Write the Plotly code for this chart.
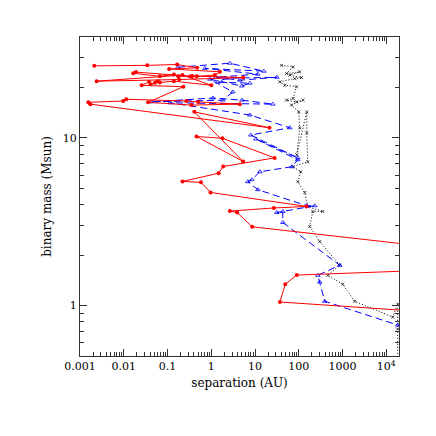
import plotly.graph_objects as go

# red track (filled dots, solid line); points beyond 2e4 AU run off the right edge
red_sep = [4.7e5, 37, 49, 90, 4.7e5, 4.7e5, 8.6, 3.9, 2.66, 27, 150, 0.96, 0.58, 0.22,
           1.47, 1.87, 28, 1.8, 0.46, 5.35, 0.41, 21.4, 0.00172, 0.00155, 0.0097, 0.0114,
           0.27, 0.5, 4.5, 0.355, 0.036, 0.23, 0.0256, 0.038, 0.041, 0.0515, 0.059, 0.067,
           0.14, 1.0, 0.22, 0.0024, 0.185, 5.35, 0.37, 0.175, 0.14, 0.067, 0.0165, 0.019,
           0.337, 0.462, 1.21, 1.57, 0.109, 0.476, 0.166, 0.0344, 0.00212]
red_mass = [0.889, 1.05, 1.34, 1.52, 1.65, 2.14, 2.95, 3.59, 3.66, 3.82, 3.9, 4.73, 5.43, 5.5,
            6.16, 6.75, 7.6, 9.95, 10.2, 7.23, 14.3, 11.5, 15.9, 16.3, 16.6, 17.0,
            16.6, 16.4, 15.9, 15.7, 16.3, 20.2, 20.6, 21.6, 20.9, 21.3, 21.8, 21.4,
            21.8, 20.6, 23.7, 21.8, 22.3, 22.9, 23.4, 23.3, 23.9, 23.3, 24.3, 24.7,
            23.3, 23.3, 23.7, 24.8, 25.8, 26.2, 27.4, 27.1, 26.9]

# blue track (dashed, small triangles)
blue_sep = [0.173, 2.66, 15.9, 0.714, 11.6, 1.27, 4.5, 31.5, 2.15, 1.41, 7.6, 5.0, 0.93,
            3.11, 1.84, 0.0418, 1.09, 5.0, 25.5, 0.113, 7.6, 62.3, 8.0, 94.8, 10.4, 94.8,
            69.2, 12.9, 8.45, 6.85, 11.6, 152, 232, 31.5, 43.1, 43.1, 863, 272, 301, 392,
            18200, 1.66e5]
blue_mass = [26.4, 27.9, 25.0, 26.0, 24.0, 23.0, 22.1, 23.0, 22.7, 21.5, 21.2, 20.4, 22.4,
             18.8, 16.8, 16.4, 17.3, 16.8, 15.9, 16.2, 13.7, 11.5, 10.4, 7.6, 9.86, 7.4,
             6.73, 6.28, 5.63, 5.48, 4.91, 3.94, 3.94, 3.59, 3.64, 3.13, 1.74, 1.515, 1.38, 1.06,
             0.765, 0.634]

# black track (dotted, small crosses)
black_sep = [40.3, 74.1, 52.4, 105, 62.3, 115, 81, 36.8, 47.9, 88.6, 74.1, 52.4, 88.6, 125,
             68, 100, 105, 90, 152, 152, 160, 73, 111, 95, 137, 160, 353, 209, 178, 301,
             863, 459, 1010, 1900, 14000, 18200, 18200, 18200]
black_mass = [27.1, 26.5, 24.2, 24.8, 23.7, 22.9, 22.6, 21.6, 20.6, 20.2, 17.2, 16.8, 16.4, 16.8,
              15.7, 14.3, 11.5, 7.93, 14.3, 10.7, 7.2, 6.73, 6.28, 5.48, 4.72, 3.89, 3.64, 3.64,
              2.96, 2.41, 1.74, 1.515, 1.34, 1.06, 0.853, 1.02, 0.724, 0.21]

x_major = [0.001, 0.01, 0.1, 1, 10, 100, 1000, 10000]
x_labels = ['0.001', '0.01', '0.1', '1', '10', '100', '1000', '10<sup>4</sup>']
y_major = [1, 10]
y_labels = ['1', '10']

x_minor = [m * 10.0 ** e for e in range(-3, 5) for m in range(2, 10)]
y_minor = [0.6, 0.7, 0.8, 0.9] + list(range(2, 10)) + [20, 30]

fig = go.Figure()
fig.add_trace(go.Scatter(
    x=black_sep, y=black_mass, mode='lines+markers',
    line=dict(color='black', width=1, dash='1px,2px'),
    marker=dict(symbol='x-thin-open', size=3, line=dict(width=0.7, color='#333333'))))
fig.add_trace(go.Scatter(
    x=blue_sep, y=blue_mass, mode='lines+markers',
    line=dict(color='#0000ff', width=1, dash='7px,4px'),
    marker=dict(symbol='triangle-up-open', size=4, color='#0000ff', line=dict(width=0.8))))
fig.add_trace(go.Scatter(
    x=red_sep, y=red_mass, mode='lines+markers',
    line=dict(color='#ff0000', width=1),
    marker=dict(symbol='circle', size=4, color='#ff0000')))

axis_common = dict(type='log', ticks='inside', tickcolor='#333333', showline=True,
                   linecolor='#333333', linewidth=1, mirror='allticks', showgrid=False,
                   zeroline=False, tickfont=dict(size=11, color='black'))

fig.update_xaxes(range=[-3, 4.29], tickmode='array', tickvals=x_major, ticktext=x_labels,
                 ticklen=7,
                 minor=dict(tickmode='array', tickvals=x_minor, ticks='inside', ticklen=4,
                            tickcolor='#333333', showgrid=False),
                 title=dict(text='separation (AU)', font=dict(size=12, color='black'), standoff=6),
                 **axis_common)
fig.update_yaxes(range=[-0.301, 1.602], tickmode='array', tickvals=y_major, ticktext=y_labels,
                 ticklen=7,
                 minor=dict(tickmode='array', tickvals=y_minor, ticks='inside', ticklen=4,
                            tickcolor='#333333', showgrid=False),
                 title=dict(text='binary mass (Msun)', font=dict(size=12, color='black'), standoff=8),
                 **axis_common)

# page body adds ~8px offset, so margins are shifted to land the frame where the reference has it
fig.update_layout(width=436, height=436, showlegend=False,
                  margin=dict(l=72, r=45, t=29, b=88),
                  plot_bgcolor='white', paper_bgcolor='white',
                  font=dict(family='DejaVu Serif', color='black'))

fig.write_html("out.html")
